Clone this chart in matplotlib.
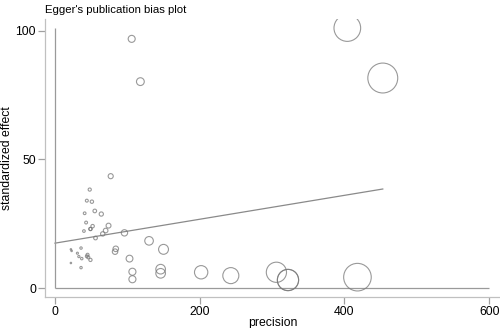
import numpy as np
import matplotlib.pyplot as plt

plt.rcParams['font.family'] = ['Liberation Sans', 'DejaVu Sans']

# precision (1/se) and standardized effect (effect/se) for each study
precision = [404, 453, 418, 306, 322, 322, 243, 202, 150, 130, 146, 146,
             107, 107, 103, 96, 84, 83, 77, 74, 70, 66, 64, 56, 55, 51, 44,
             48, 41, 43, 52, 49, 49, 40, 36, 31, 33, 37, 44, 45, 46, 49, 36,
             22, 23, 22, 106, 118]
std_effect = [101, 81.6, 4.3, 6.2, 3.2, 3.2, 4.9, 6.2, 15.1, 18.4, 7.4, 5.8,
              6.4, 3.5, 11.5, 21.5, 15.3, 14.2, 43.5, 24.3, 22.4, 21.1, 28.8,
              19.5, 30.0, 33.6, 34.0, 38.3, 29.1, 25.5, 24.1, 23.0, 23.0, 22.2,
              15.6, 13.6, 12.3, 11.5, 12.4, 13.0, 12.0, 11.0, 8.0, 15.1, 14.5,
              9.8, 96.8, 80.2]

# Egger regression line: standardized effect = intercept + slope * precision
intercept = 17.5
slope = 0.0464

xticks = [0, 200, 400, 600]
yticks = [0, 50, 100]

precision = np.array(precision)
std_effect = np.array(std_effect)

fig = plt.figure(figsize=(5, 3.28), dpi=100)
ax = fig.add_axes([0.09, 0.0945, 0.91, 0.8475])

# circle size grows with precision
diam_pt = 0.066 * precision * 72 / 100
ax.scatter(precision, std_effect, s=diam_pt ** 2, facecolors='none',
           edgecolors='#777777', linewidths=0.8, alpha=0.75, zorder=3)

xl = np.array([0, precision.max()])
ax.plot(xl, intercept + slope * xl, color='#8a8a8a', lw=0.9, zorder=2)

# inner frame lines at zero
ax.vlines(0, 0, std_effect.max(), color='#9a9a9a', lw=0.9)
ax.hlines(0, 0, 600, color='#9a9a9a', lw=0.9)

ax.set_xlim(-13.8, 615)
ax.set_ylim(-3.4, 104.5)
ax.set_xticks(xticks)
ax.set_yticks(yticks)
for s in ['top', 'right']:
    ax.spines[s].set_visible(False)
for s in ['left', 'bottom']:
    ax.spines[s].set_color('#c0c0c0')
    ax.spines[s].set_linewidth(0.9)
ax.tick_params(colors='#a0a0a0', labelcolor='black', labelsize=8.8, length=5,
               width=0.9, pad=1.5)

ax.set_xlabel('precision', fontsize=8.8, labelpad=-1)
ax.set_ylabel('standardized effect', fontsize=8.8, labelpad=2)
fig.text(0.09, 0.985, "Egger's publication bias plot", fontsize=8.2,
         ha='left', va='top')

fig.savefig('out.png', dpi=100)
